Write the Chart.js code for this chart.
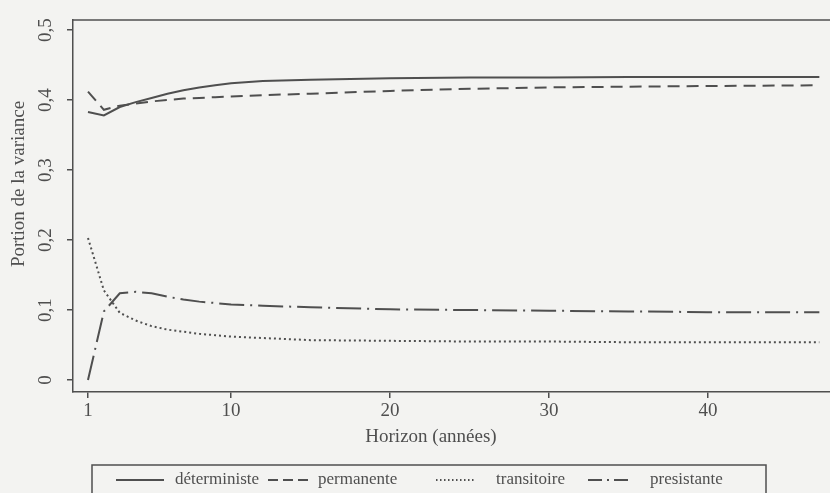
<!DOCTYPE html>
<html>
<head>
<meta charset="utf-8">
<script src="https://cdn.jsdelivr.net/npm/chart.js@4/dist/chart.umd.min.js"></script>
<style>
  body { margin: 0; background: #f3f3f1; }
  canvas { display: block; }
</style>
</head>
<body>
<canvas id="chart" width="830" height="493"></canvas>
<script>
// données
const horizons = [1, 2, 3, 4, 5, 6, 7, 8, 9, 10, 12, 15, 20, 25, 30, 35, 40, 47];
const deterministe = [0.383, 0.378, 0.390, 0.397, 0.403, 0.409, 0.414, 0.418, 0.421, 0.424, 0.427, 0.429, 0.431, 0.432, 0.432, 0.433, 0.433, 0.433];
const permanente = [0.412, 0.386, 0.392, 0.395, 0.398, 0.400, 0.402, 0.403, 0.404, 0.405, 0.407, 0.409, 0.413, 0.416, 0.418, 0.419, 0.420, 0.421];
const transitoire = [0.203, 0.128, 0.096, 0.085, 0.077, 0.072, 0.069, 0.066, 0.064, 0.062, 0.060, 0.057, 0.056, 0.055, 0.055, 0.054, 0.054, 0.054];
const presistante = [0.000, 0.098, 0.124, 0.126, 0.124, 0.119, 0.115, 0.112, 0.110, 0.108, 0.106, 0.104, 0.101, 0.100, 0.099, 0.098, 0.097, 0.097];

const seriesNames = ["déterministe", "permanente", "transitoire", "presistante"];
const xTicks = [1, 10, 20, 30, 40];
const yTicks = [0, 0.1, 0.2, 0.3, 0.4, 0.5];

const INK = "#4f4f4f";
const FONT = "Liberation Serif";

const toPoints = (values) => horizons.map((h, i) => ({ x: h, y: values[i] }));

// fond papier
const backgroundPlugin = {
  id: "background",
  beforeDraw: (chart) => {
    const ctx = chart.ctx;
    ctx.save();
    ctx.fillStyle = "#f3f3f1";
    ctx.fillRect(0, 0, chart.width, chart.height);
    ctx.restore();
  },
};

// cadre, étiquettes verticales de l'axe y, titres et légende encadrée
const framePlugin = {
  id: "frame",
  afterDraw: (chart) => {
    const {
      ctx,
      chartArea: { left, right, top },
      scales: { y },
    } = chart;

    ctx.save();
    // bord haut de la boîte
    ctx.strokeStyle = INK;
    ctx.lineWidth = 1.5;
    ctx.beginPath();
    ctx.moveTo(left, top);
    ctx.lineTo(right, top);
    ctx.stroke();

    // étiquettes y tournées (style R)
    ctx.fillStyle = INK;
    ctx.font = `19px "${FONT}"`;
    ctx.textAlign = "center";
    ctx.textBaseline = "middle";
    yTicks.forEach((v) => {
      const label = v === 0 ? "0" : v.toFixed(1).replace(".", ",");
      ctx.save();
      ctx.translate(46, y.getPixelForValue(v));
      ctx.rotate(-Math.PI / 2);
      ctx.fillText(label, 0, 0);
      ctx.restore();
    });

    // titre de l'axe y
    ctx.save();
    ctx.translate(19, 184);
    ctx.rotate(-Math.PI / 2);
    ctx.fillText("Portion de la variance", 0, 0);
    ctx.restore();

    // titre de l'axe x (centré sur la figure d'origine, coupée à droite)
    ctx.fillText("Horizon (années)", 431, 437);

    // légende
    ctx.lineWidth = 1.5;
    ctx.strokeRect(92, 465, 674, 40);
    const legendY = 480;
    const items = [
      { x0: 116, x1: 164, tx: 175, dash: [] },
      { x0: 268, x1: 308, tx: 318, dash: [10, 5] },
      { x0: 436, x1: 476, tx: 496, dash: [1.5, 2.5] },
      { x0: 588, x1: 628, tx: 650, dash: [14, 5, 2, 5] },
    ];
    ctx.font = `17px "${FONT}"`;
    ctx.textAlign = "left";
    items.forEach((item, i) => {
      ctx.beginPath();
      ctx.lineWidth = 2;
      ctx.setLineDash(item.dash);
      ctx.moveTo(item.x0, legendY);
      ctx.lineTo(item.x1, legendY);
      ctx.stroke();
      ctx.setLineDash([]);
      ctx.fillText(seriesNames[i], item.tx, legendY);
    });
    ctx.restore();
  },
};

const ctx = document.getElementById("chart");
const chart = new Chart(ctx, {
  type: "line",
  data: {
    datasets: [
      { label: seriesNames[0], data: toPoints(deterministe), borderDash: [] },
      { label: seriesNames[1], data: toPoints(permanente), borderDash: [12, 7] },
      { label: seriesNames[2], data: toPoints(transitoire), borderDash: [2, 3] },
      { label: seriesNames[3], data: toPoints(presistante), borderDash: [25, 6, 2, 6] },
    ].map((d) => ({
      ...d,
      borderColor: INK,
      borderWidth: 2,
      pointRadius: 0,
      tension: 0,
      fill: false,
    })),
  },
  options: {
    responsive: false,
    animation: false,
    plugins: {
      legend: { display: false },
      tooltip: { enabled: false },
    },
    layout: {
      padding: { left: 0, right: 0, top: 20, bottom: 43 },
    },
    scales: {
      x: {
        type: "linear",
        min: 0.057,
        max: 47.67,
        afterBuildTicks: (scale) => {
          scale.ticks = xTicks.map((v) => ({ value: v }));
        },
        afterFit: (scale) => {
          scale.height = 58;
        },
        grid: {
          drawOnChartArea: false,
          drawTicks: true,
          tickLength: 6,
          color: INK,
          lineWidth: 1.5,
        },
        border: { color: INK, width: 1.5 },
        ticks: {
          color: INK,
          padding: 2,
          autoSkip: false,
          maxRotation: 0,
          font: { family: FONT, size: 19 },
          callback: (v) => String(v),
        },
      },
      y: {
        min: -0.0171,
        max: 0.5143,
        afterBuildTicks: (scale) => {
          scale.ticks = yTicks.map((v) => ({ value: v }));
        },
        afterFit: (scale) => {
          scale.width = 73;
        },
        grid: {
          drawOnChartArea: false,
          drawTicks: true,
          tickLength: 6,
          color: INK,
          lineWidth: 1.5,
        },
        border: { color: INK, width: 1.5 },
        ticks: { display: false },
      },
    },
  },
  plugins: [backgroundPlugin, framePlugin],
});
</script>
</body>
</html>
